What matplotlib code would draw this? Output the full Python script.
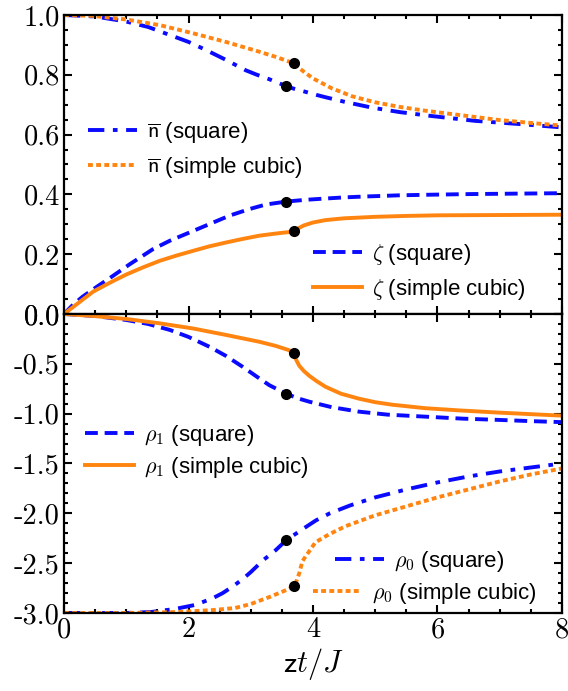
import matplotlib
matplotlib.use('Agg')
import matplotlib.pyplot as plt
import numpy as np
from matplotlib.ticker import MultipleLocator, FuncFormatter

# values
t_nbar_sq = [0, 0.5, 1.0, 1.35, 1.7, 2.0, 2.28, 2.6, 2.92, 3.1, 3.3, 3.57, 3.7, 3.88, 4.05, 4.2, 4.5,
             4.95, 5.4, 5.91, 6.6, 7.4, 8.0]
nbar_sq = [1.0, 0.995, 0.978, 0.96, 0.933, 0.91, 0.883, 0.85, 0.815, 0.80, 0.785, 0.762, 0.753, 0.743,
           0.733, 0.725, 0.71, 0.69, 0.675, 0.662, 0.646, 0.634, 0.624]

t_nbar_sc = [0, 0.47, 1.0, 1.54, 2.07, 2.6, 3.14, 3.4, 3.70, 3.78, 3.88, 4.0, 4.1, 4.3, 4.63, 5.0,
             5.38, 5.8, 6.18, 6.6, 6.98, 7.5, 8.0]
nbar_sc = [1.0, 0.997, 0.985, 0.966, 0.939, 0.910, 0.877, 0.86, 0.838, 0.822, 0.806, 0.788, 0.777,
           0.755, 0.728, 0.708, 0.693, 0.680, 0.670, 0.659, 0.649, 0.639, 0.630]

t_zeta_sq = [0, 0.15, 0.3, 0.52, 0.79, 1.06, 1.43, 1.70, 2.02, 2.34, 2.66, 2.98, 3.24, 3.57, 3.89,
             4.11, 4.5, 4.84, 5.4, 5.91, 6.5, 6.98, 8.0]
zeta_sq = [0, 0.032, 0.058, 0.09, 0.128, 0.167, 0.217, 0.245, 0.273, 0.301, 0.329, 0.351, 0.366,
           0.376, 0.382, 0.385, 0.390, 0.393, 0.397, 0.399, 0.401, 0.402, 0.404]

t_zeta_sc = [0, 0.2, 0.47, 0.75, 1.0, 1.27, 1.54, 1.8, 2.07, 2.33, 2.6, 2.87, 3.14, 3.4, 3.70, 3.75,
             3.85, 4.0, 4.2, 4.5, 5.0, 5.5, 6.0, 7.0, 8.0]
zeta_sc = [0, 0.032, 0.075, 0.106, 0.132, 0.156, 0.178, 0.195, 0.211, 0.226, 0.239, 0.251, 0.262,
           0.269, 0.276, 0.285, 0.296, 0.306, 0.314, 0.320, 0.325, 0.328, 0.330, 0.331, 0.332]

t_rho1_sq = [0, 0.5, 1.0, 1.35, 1.7, 2.0, 2.34, 2.6, 2.87, 3.1, 3.3, 3.57, 3.75, 3.94, 4.3, 4.74,
             5.2, 5.8, 6.4, 6.87, 7.5, 8.0]
rho1_sq = [0, -0.02, -0.06, -0.1, -0.16, -0.23, -0.33, -0.42, -0.53, -0.63, -0.715, -0.80, -0.845,
           -0.88, -0.935, -0.98, -1.01, -1.03, -1.05, -1.06, -1.075, -1.085]

t_rho1_sc = [0, 0.47, 1.0, 1.54, 2.07, 2.6, 3.14, 3.4, 3.6, 3.70, 3.71, 3.73, 3.78, 3.85, 3.94, 4.05,
             4.2, 4.45, 4.74, 5.0, 5.27, 5.8, 6.34, 7.0, 8.0]
rho1_sc = [0, -0.02, -0.05, -0.094, -0.145, -0.21, -0.279, -0.32, -0.36, -0.39, -0.43, -0.46, -0.52,
           -0.57, -0.62, -0.67, -0.73, -0.80, -0.85, -0.885, -0.91, -0.945, -0.967, -0.99, -1.02]

t_rho0_sq = [0, 1.0, 1.4, 1.78, 2.1, 2.38, 2.55, 2.72, 2.87, 3.0, 3.2, 3.4, 3.57, 3.83, 4.05, 4.27,
             4.6, 5.0, 5.5, 6.0, 6.5, 7.0, 7.5, 8.0]
rho0_sq = [-3.0, -3.0, -2.99, -2.96, -2.92, -2.855, -2.8, -2.73, -2.66, -2.59, -2.47, -2.37, -2.27,
           -2.16, -2.07, -2.0, -1.92, -1.84, -1.76, -1.69, -1.63, -1.58, -1.54, -1.5]

t_rho0_sc = [0, 1.0, 1.87, 2.4, 2.75, 3.0, 3.3, 3.57, 3.70, 3.74, 3.78, 3.83, 3.94, 4.04, 4.26, 4.52,
             5.0, 5.5, 6.0, 6.5, 7.0, 7.5, 8.0]
rho0_sc = [-3.0, -3.0, -2.99, -2.97, -2.95, -2.91, -2.84, -2.77, -2.73, -2.67, -2.60, -2.48, -2.38,
           -2.29, -2.21, -2.13, -2.02, -1.93, -1.84, -1.76, -1.68, -1.61, -1.55]

# critical points (black dots)
tc_sq = 3.57
tc_sc = 3.70

blue = '#0a0aff'
orange = '#ff8510'
lw = 2.8
dashdot = (4.2, 2.2, 1.2, 2.2)
dashed = (3.3, 1.75)
dotted = (1.25, 0.85)

plt.rcParams['mathtext.fontset'] = 'cm'
plt.rcParams['font.family'] = 'Liberation Sans'

fig = plt.figure(figsize=(5.68, 6.91), dpi=100)
ax1 = fig.add_axes([0.1127, 0.5456, 0.8767, 0.4327])
ax2 = fig.add_axes([0.1127, 0.1129, 0.8767, 0.4327], sharex=ax1)


def dot(ax, t, v, tc):
    ax.plot([tc], [np.interp(tc, t, v)], 'o', color='k', ms=7, zorder=5)


l1, = ax1.plot(t_nbar_sq, nbar_sq, color=blue, lw=lw, dashes=dashdot,
               label=r'$\overline{\mathsf{n}}$ (square)')
l2, = ax1.plot(t_nbar_sc, nbar_sc, color=orange, lw=lw, dashes=dotted,
               label=r'$\overline{\mathsf{n}}$ (simple cubic)')
l3, = ax1.plot(t_zeta_sq, zeta_sq, color=blue, lw=lw, dashes=dashed,
               label=r'$\zeta$ (square)')
l4, = ax1.plot(t_zeta_sc, zeta_sc, color=orange, lw=lw,
               label=r'$\zeta$ (simple cubic)')
dot(ax1, t_nbar_sq, nbar_sq, tc_sq)
dot(ax1, t_nbar_sc, nbar_sc, tc_sc)
dot(ax1, t_zeta_sq, zeta_sq, tc_sq)
dot(ax1, t_zeta_sc, zeta_sc, tc_sc)

m1, = ax2.plot(t_rho1_sq, rho1_sq, color=blue, lw=lw, dashes=dashed,
               label=r'$\rho_1$ (square)')
m2, = ax2.plot(t_rho1_sc, rho1_sc, color=orange, lw=lw,
               label=r'$\rho_1$ (simple cubic)')
m3, = ax2.plot(t_rho0_sq, rho0_sq, color=blue, lw=lw, dashes=dashdot,
               label=r'$\rho_0$ (square)')
m4, = ax2.plot(t_rho0_sc, rho0_sc, color=orange, lw=lw, dashes=dotted,
               label=r'$\rho_0$ (simple cubic)')
dot(ax2, t_rho1_sq, rho1_sq, tc_sq)
dot(ax2, t_rho1_sc, rho1_sc, tc_sc)
dot(ax2, t_rho0_sq, rho0_sq, tc_sq)
dot(ax2, t_rho0_sc, rho0_sc, tc_sc)

legkw = dict(frameon=False, fontsize=16, handlelength=2.2, handletextpad=0.45,
             labelspacing=0.45, borderpad=0, borderaxespad=0, loc='upper left')
lg = ax1.legend(handles=[l1, l2], bbox_to_anchor=(0.048, 0.648), **legkw)
ax1.add_artist(lg)
ax1.legend(handles=[l3, l4], bbox_to_anchor=(0.50, 0.24), **legkw)
lg = ax2.legend(handles=[m1, m2], bbox_to_anchor=(0.042, 0.635),
                **dict(legkw, labelspacing=0.3))
ax2.add_artist(lg)
# the two rho_0 entries are staggered in the reference
lg = ax2.legend(handles=[m3], bbox_to_anchor=(0.545, 0.215), **legkw)
ax2.add_artist(lg)
ax2.legend(handles=[m4], bbox_to_anchor=(0.50, 0.108), **legkw)

ax1.set_xlim(0, 8)
ax1.set_ylim(0, 1.0)
ax2.set_ylim(-3.0, 0.0)

fmt = FuncFormatter(lambda v, p: '%.1f' % v if abs(v) > 1e-9 else '0.0')
ax1.yaxis.set_major_locator(MultipleLocator(0.2))
ax1.yaxis.set_minor_locator(MultipleLocator(0.05))
ax2.yaxis.set_major_locator(MultipleLocator(0.5))
ax2.yaxis.set_minor_locator(MultipleLocator(0.1))
ax2.xaxis.set_major_locator(MultipleLocator(2))
ax2.xaxis.set_minor_locator(MultipleLocator(0.5))

for ax in (ax1, ax2):
    ax.yaxis.set_major_formatter(fmt)
    ax.tick_params(which='both', direction='in', top=True, right=True, width=1.5)
    ax.tick_params(which='major', length=5.5, labelsize=20.5, pad=3,
                   labelfontfamily='cmr10')
    ax.tick_params(which='minor', length=3)
    for s in ax.spines.values():
        s.set_linewidth(1.6)

ax1.tick_params(labelbottom=False)
ax1.yaxis.get_major_ticks()[0].label1.set_visible(False)
ax2.xaxis.set_major_formatter(FuncFormatter(lambda v, p: '%d' % round(v)))
ax2.set_xlabel(r'$\mathsf{z}t/J$', fontsize=22, labelpad=2)

fig.savefig('out.png', dpi=100)
